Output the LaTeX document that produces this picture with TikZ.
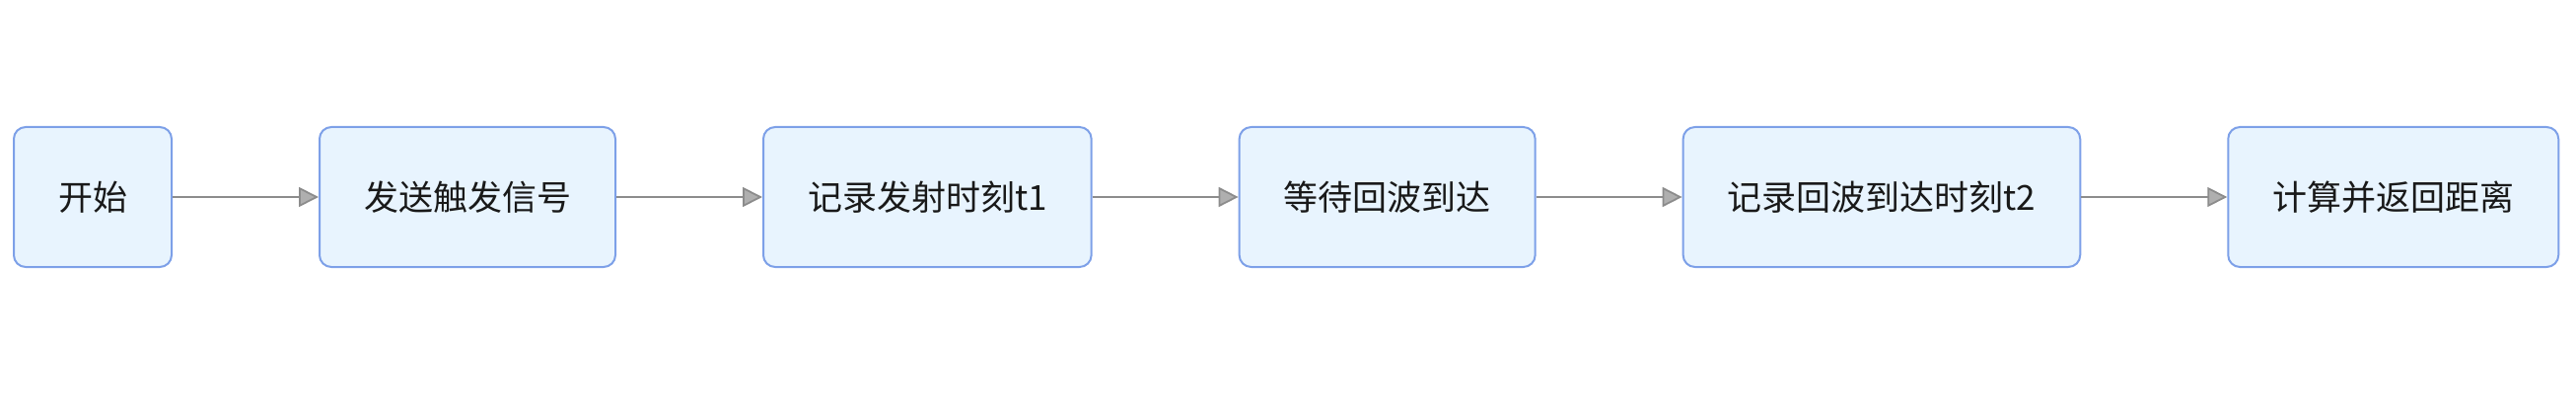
\documentclass[tikz,border=0pt]{standalone}
\usepackage{fontspec}
\setmainfont{Noto Sans CJK SC}
\usetikzlibrary{positioning,arrows.meta}

\definecolor{boxfill}{RGB}{232,244,254}
\definecolor{boxline}{RGB}{125,160,232}
\definecolor{arrowgray}{RGB}{140,140,140}

\tikzset{
  stepbox/.style={draw=boxline, fill=boxfill, line width=1pt, rounded corners=6pt,
    minimum height=71pt, inner xsep=22.5pt, text=black!90,
    font=\fontsize{17.5}{20}\selectfont},
}

\begin{document}
\begin{tikzpicture}[node distance=74pt]
      \useasboundingbox (0,0) rectangle (1306pt,201pt);
      \node[stepbox, anchor=west] (start) at (6.5pt,101pt) {开始};
      \node[stepbox, right=of start] (sendtrigger) {发送触发信号};
      \node[stepbox, right=of sendtrigger] (recordtone) {记录发射时刻t1};
      \node[stepbox, right=of recordtone] (waitecho) {等待回波到达};
      \node[stepbox, right=of waitecho] (recordttwo) {记录回波到达时刻t2};
      \node[stepbox, right=of recordttwo] (distance) {计算并返回距离};
      \begin{scope}[-{Triangle[length=10pt,width=10pt,fill=arrowgray!70!white]}, draw=arrowgray, line width=0.9pt]
        \draw (start) to (sendtrigger);
        \draw (sendtrigger) to (recordtone);
        \draw (recordtone) to (waitecho);
        \draw (waitecho) to (recordttwo);
        \draw (recordttwo) to (distance);
      \end{scope}
    \end{tikzpicture}
\end{document}
